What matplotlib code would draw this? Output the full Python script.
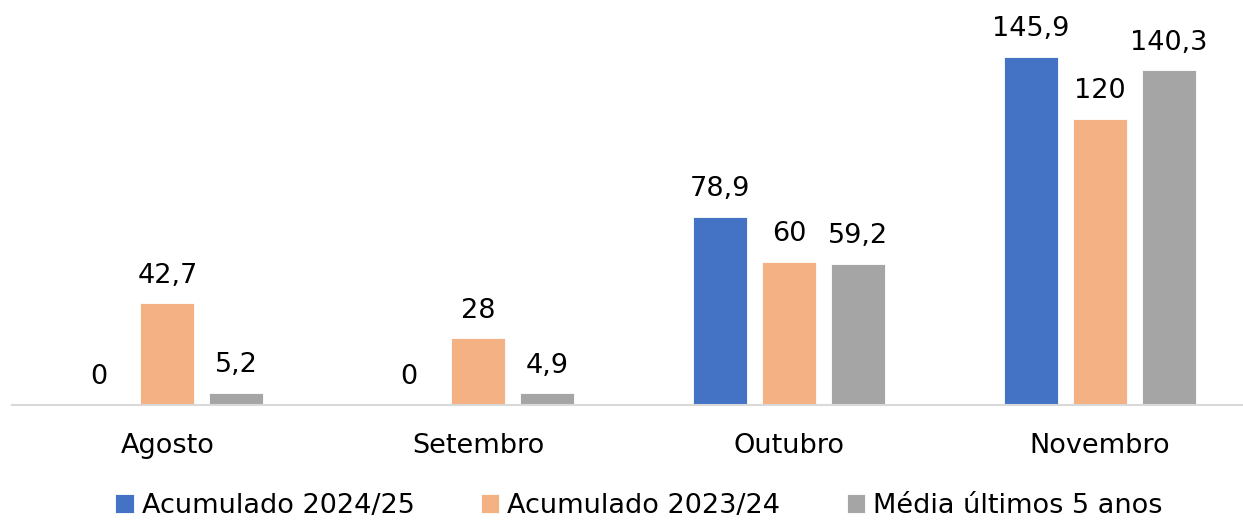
import matplotlib.pyplot as plt
import numpy as np

plt.rcParams['font.family'] = ['DejaVu Sans']

# data
months = ['Agosto', 'Setembro', 'Outubro', 'Novembro']
acum_2024_25 = [0, 0, 78.9, 145.9]
acum_2023_24 = [42.7, 28, 60, 120]
media_5_anos = [5.2, 4.9, 59.2, 140.3]
series_names = ['Acumulado 2024/25', 'Acumulado 2023/24', 'Média últimos 5 anos']
colors = ['#4472C4', '#F4B183', '#A5A5A5']

FS = 19.5
W, H = 1243, 520
fig = plt.figure(figsize=(W / 100, H / 100), dpi=100)
# axes placed in pixel terms: baseline at y=405, left edge at x=12
ax = fig.add_axes([12 / W, (H - 405) / H, (W - 12) / W, 381.6 / H])

x = np.arange(len(months))
width = 0.174
step = 0.222
all_series = [acum_2024_25, acum_2023_24, media_5_anos]

for i, (vals, name, c) in enumerate(zip(all_series, series_names, colors)):
    pos = x + (i - 1) * step
    ax.bar(pos, vals, width, color=c, label=name, edgecolor='white', linewidth=0.6)
    for xp, v in zip(pos, vals):
        txt = ('%g' % v).replace('.', ',')
        ax.annotate(txt, (xp, v), xytext=(0, 10.5), textcoords='offset points',
                    ha='center', va='bottom', fontsize=FS, color='black')

ax.set_xlim(-0.5, 3.46)
ax.set_ylim(0, 160)
ax.set_xticks(x)
ax.set_xticklabels(months, fontsize=FS)
ax.tick_params(axis='x', length=0, pad=20)
ax.set_yticks([])
for s in ['top', 'right', 'left']:
    ax.spines[s].set_visible(False)
ax.spines['bottom'].set_color('#D9D9D9')
ax.spines['bottom'].set_linewidth(1.5)

fig.legend(loc='center', bbox_to_anchor=(639 / W, 14 / H), ncol=3, frameon=False,
           fontsize=FS, handlelength=0.68, handleheight=0.68, handletextpad=0.3,
           columnspacing=2.45, borderpad=0)

fig.savefig('out.png', dpi=100)
